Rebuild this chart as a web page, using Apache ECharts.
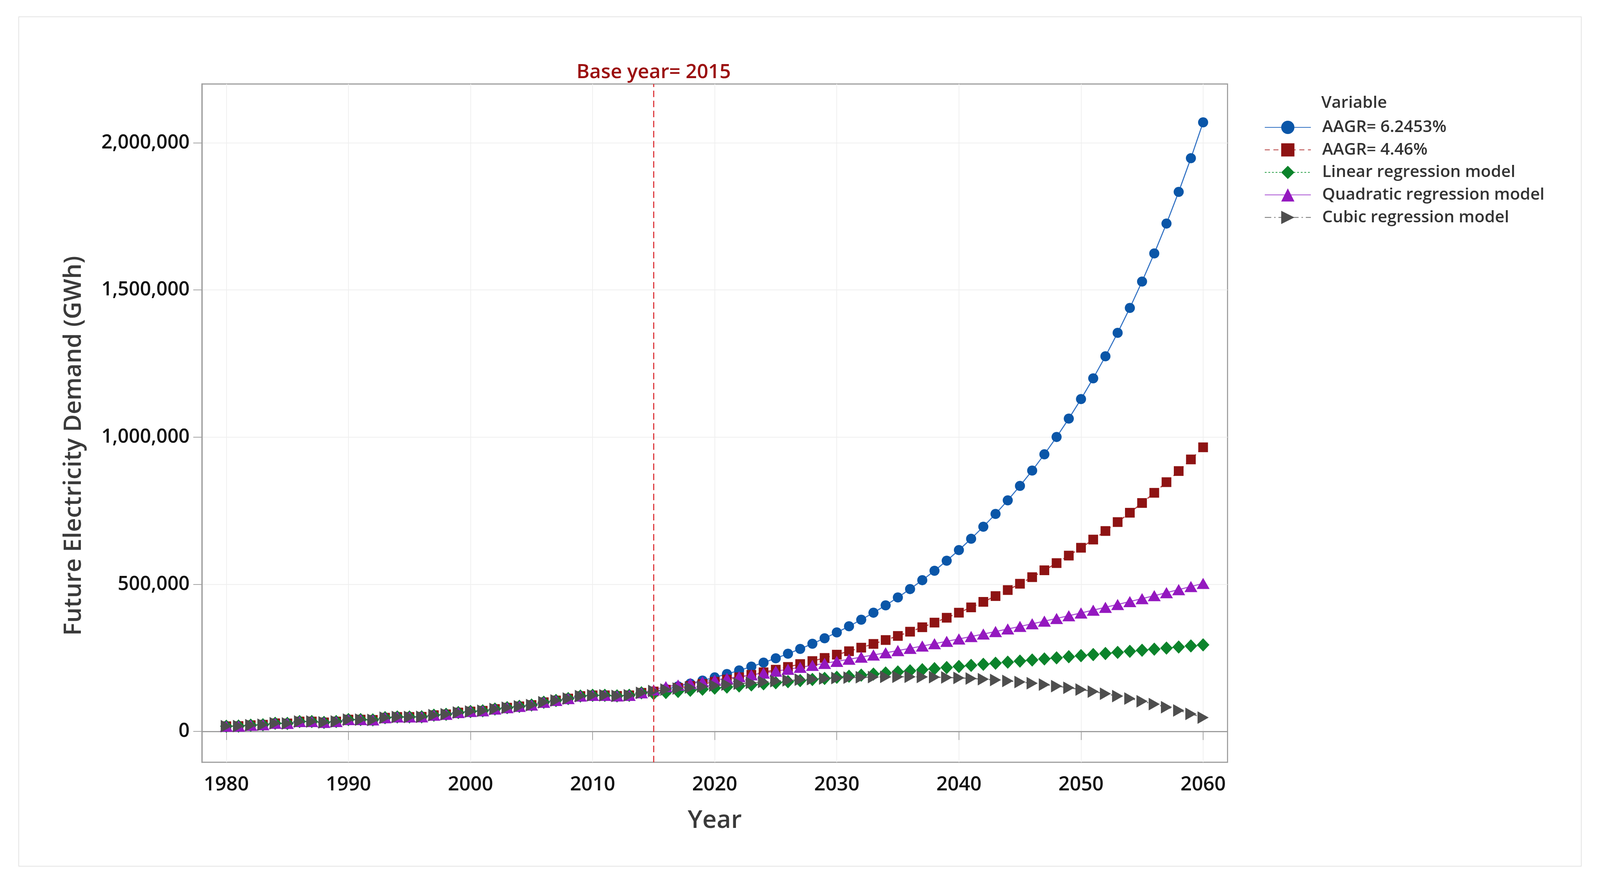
<!DOCTYPE html>
<html><head><meta charset="utf-8">
<script src="https://cdn.jsdelivr.net/npm/echarts@6/dist/echarts.min.js"></script>
<style>
html,body{margin:0;padding:0;background:#fff;overflow:hidden;width:100%;height:100%;}
#chart{position:absolute;left:0;top:0;width:100vw;height:100vh;}
#frame{position:absolute;border:2px solid #e4e4e4;pointer-events:none;box-sizing:border-box;}
</style></head><body>
<div id="chart"></div><div id="frame"></div>
<script>
// ---------- DATA ----------
const YEARS = [1980,1981,1982,1983,1984,1985,1986,1987,1988,1989,
  1990,1991,1992,1993,1994,1995,1996,1997,1998,1999,
  2000,2001,2002,2003,2004,2005,2006,2007,2008,2009,
  2010,2011,2012,2013,2014,2015,2016,2017,2018,2019,
  2020,2021,2022,2023,2024,2025,2026,2027,2028,2029,
  2030,2031,2032,2033,2034,2035,2036,2037,2038,2039,
  2040,2041,2042,2043,2044,2045,2046,2047,2048,2049,
  2050,2051,2052,2053,2054,2055,2056,2057,2058,2059,2060];

// actual demand 1980-2014 (shared by all series)
const HISTORICAL = [17500,18000,21000,22500,27500,27000,33500,33500,30500,33500,
  40000,40000,39000,46500,49000,49000,49500,55000,58000,64000,
  67500,70000,76000,80500,85000,89500,99000,105000,111500,120000,
  122500,122500,120500,122500,131000];

// 2015-2060 projections
const AAGR_62453 = [135500,143962,152953,162506,172655,183437,194894,207065,219997,233737,248334,
  263844,280322,297829,316429,336192,357188,379496,403197,428378,455132,
  483556,513756,545842,579932,616152,654633,695517,738955,785106,834139,
  886234,941583,1000389,1062867,1129247,1199772,1274703,1354313,1438895,1528760,
  1624237,1725676,1833450,1947954,2069610];
const AAGR_446 = [135500,141543,147856,154450,161339,168535,176051,183903,192105,200673,209623,
  218972,228739,238940,249597,260729,272358,284505,297194,310449,324295,
  338758,353867,369649,386136,403357,421347,440138,459769,480275,501696,
  524071,547445,571861,597366,624008,651839,680911,711280,743003,776141,
  810757,846917,884689,924146,965363];
const LINEAR = [128500,132180,135860,139540,143220,146900,150580,154260,157940,161620,165300,
  168980,172660,176340,180020,183700,187380,191060,194740,198420,202100,
  205780,209460,213140,216820,220500,224180,227860,231540,235220,238900,
  242580,246260,249940,253620,257300,260980,264660,268340,272020,275700,
  279380,283060,286740,290420,294100];
const QUADRATIC = [141000,152000,157400,162800,168400,174100,180000,186000,192000,198200,204600,
  211000,217600,224300,231100,238000,245100,252300,259600,267000,274600,
  282200,290000,297900,306000,314100,322400,330800,339300,348000,356700,
  365600,374600,383700,393000,402400,411900,421500,431200,441100,451100,
  461200,471400,481700,492200,502800];
const CUBIC = [137000,142000,145500,149000,152400,155800,159000,162100,165100,168000,170700,
  173200,175500,177600,179500,181200,182600,183800,184700,185200,185500,
  185500,185100,184300,183200,181700,179800,177400,174700,171500,167800,
  163700,159000,153900,148200,142000,135300,127900,120000,111500,102400,
  92600,82200,71200,59400,47000];

const SERIES_NAMES = ['AAGR= 6.2453%','AAGR= 4.46%','Linear regression model','Quadratic regression model','Cubic regression model'];
const X_TICKS = [1980,1990,2000,2010,2020,2030,2040,2050,2060];
const Y_TICKS = [0,500000,1000000,1500000,2000000];
const BASE_YEAR = 2015;
const BASE_LABEL = 'Base year= 2015';
const LEGEND_TITLE = 'Variable';
const X_TITLE = 'Year';
const Y_TITLE = 'Future Electricity Demand (GWh)';

// ---------- LAYOUT (design size 4446 x 2260, scaled to the real viewport) ----------
const W = window.innerWidth || 4446, H = window.innerHeight || 2260;
const sx = W / 4446, sy = H / 2260, s = Math.min(sx, sy);
const X = v => v * sx, Y = v => v * sy, S = v => v * s;

const fr = document.getElementById('frame');
fr.style.left = X(51) + 'px'; fr.style.top = Y(42) + 'px';
fr.style.width = X(4344) + 'px'; fr.style.height = Y(2176) + 'px';
fr.style.borderWidth = Math.max(1, S(2.5)) + 'px';

function pairs(proj){
  const vals = HISTORICAL.concat(proj);
  return YEARS.map((y,i)=>[y, vals[i]]);
}
const FONT = "'Open Sans', 'Noto Sans', sans-serif";
const sz = v => Array.isArray(v) ? v.map(S) : S(v);

const styles = [
  {symbol:'circle', size:28, rot:0, mc:'#0A56A8', lc:'#3473C4', type:'solid'},
  {symbol:'rect', size:27, rot:0, mc:'#8E1313', lc:'#B33A3A', type:[14,10]},
  {symbol:'diamond', size:[35,37], rot:0, mc:'#0B832B', lc:'#1F9B3F', type:[5,5]},
  {symbol:'triangle', size:[36,31], rot:0, mc:'#9418BF', lc:'#A84FD2', type:'solid'},
  {symbol:'triangle', size:[35,31], rot:-90, mc:'#4E4E4E', lc:'#707070', type:[18,8,4,8]}
];
const datasets = [AAGR_62453, AAGR_446, LINEAR, QUADRATIC, CUBIC];

const series = datasets.map((d,i)=>{
  const st = styles[i];
  const o = {
    name: SERIES_NAMES[i], type:'line', data: pairs(d),
    symbol: st.symbol, symbolSize: sz(st.size), symbolRotate: st.rot, showAllSymbol:true,
    itemStyle:{color:st.mc, borderWidth:0},
    lineStyle:{color:st.lc, width:S(3), type: Array.isArray(st.type) ? st.type.map(S) : st.type},
    emphasis:{disabled:true}, animation:false
  };
  if(i===0){
    o.markLine = {
      silent:true, symbol:['none','none'], animation:false,
      lineStyle:{color:'#DC2F34', width:S(3), type:[S(18),S(10)]},
      label:{show:true, position:'end', formatter: BASE_LABEL, color:'#9B0E0E',
        fontSize:S(55), fontWeight:600, fontFamily:FONT, distance:S(4)},
      data:[{xAxis: BASE_YEAR}]
    };
  }
  return o;
});

const chart = echarts.init(document.getElementById('chart'), null, {renderer:'canvas', width:W, height:H});
chart.setOption({
  animation:false,
  backgroundColor:'#ffffff',
  title:{text:LEGEND_TITLE, left:X(3666), top:Y(238),
    textStyle:{fontSize:S(46), fontWeight:600, color:'#333', fontFamily:FONT}},
  legend:{
    data: SERIES_NAMES, orient:'vertical', left:X(3508), top:Y(300),
    itemWidth:S(128), itemHeight:S(46), itemGap:Y(58)-S(46), selectedMode:false,
    textStyle:{fontSize:S(46), fontWeight:600, color:'#333', fontFamily:FONT, padding:[0,0,0,S(26)]}
  },
  grid:{left:X(561), right:X(1035), top:Y(215), bottom:Y(309), show:true, borderColor:'#9d9d9d', borderWidth:S(3), backgroundColor:'#fff'},
  xAxis:{
    type:'value', min:1978, max:2062,
    name:X_TITLE, nameLocation:'middle', nameGap:Y(118),
    nameTextStyle:{fontSize:S(69), fontWeight:600, color:'#3a3a3a', fontFamily:FONT},
    axisLine:{show:true, lineStyle:{color:'#9d9d9d', width:S(3)}},
    axisTick:{show:true, length:S(24), inside:false, lineStyle:{color:'#9d9d9d', width:S(2)}, customValues:X_TICKS},
    axisLabel:{fontSize:S(55), fontWeight:600, color:'#111', fontFamily:FONT, margin:Y(32), customValues:X_TICKS,
      formatter:(v)=>String(v)},
    splitLine:{show:true, lineStyle:{color:'#efefef', width:S(2)}}
  },
  yAxis:{
    type:'value', min:-105000, max:2200000,
    name:Y_TITLE, nameLocation:'middle', nameGap:X(322), nameRotate:90,
    nameTextStyle:{fontSize:S(67), fontWeight:600, color:'#3a3a3a', fontFamily:FONT, padding:[0,Y(116),0,0]},
    axisLine:{show:true, lineStyle:{color:'#9d9d9d', width:S(3)}},
    axisTick:{show:true, length:S(24), inside:false, lineStyle:{color:'#9d9d9d', width:S(2)}, customValues:Y_TICKS},
    axisLabel:{fontSize:S(54), fontWeight:600, color:'#111', fontFamily:FONT, margin:X(34), customValues:Y_TICKS,
      formatter:(v)=>Number(v).toLocaleString('en-US')},
    splitLine:{show:true, lineStyle:{color:'#efefef', width:S(2)}}
  },
  series: series
});
</script></body></html>
